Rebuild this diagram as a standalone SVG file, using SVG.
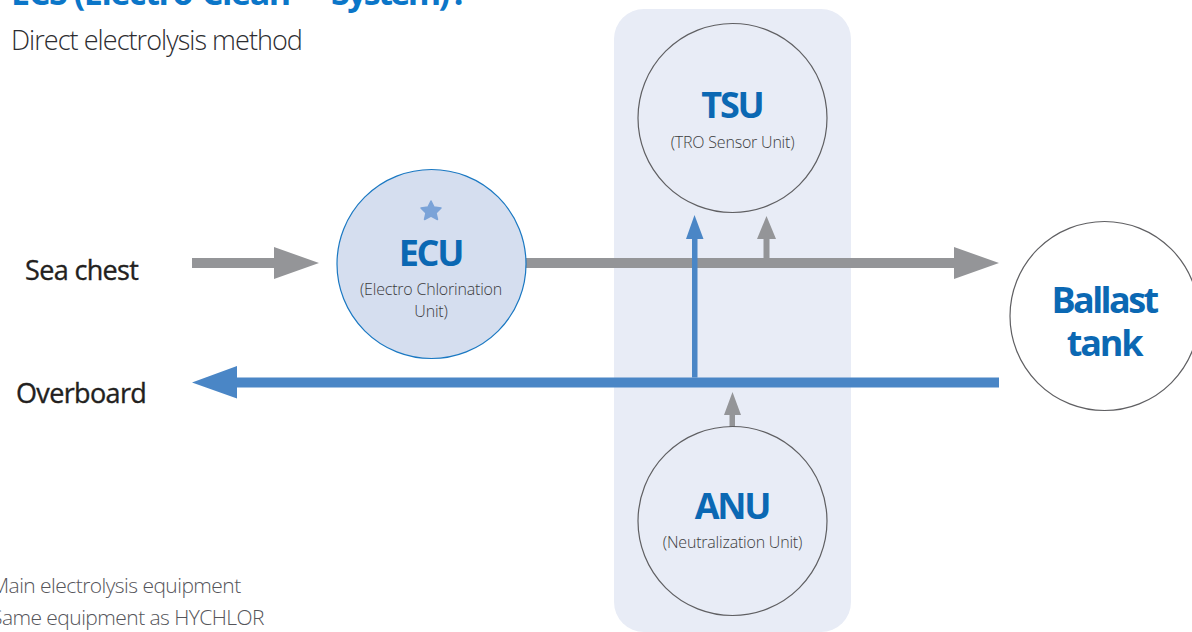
<svg xmlns="http://www.w3.org/2000/svg" width="1192" height="632" viewBox="0 0 1192 632">
<style>
text{font-family:"Open Sans","Noto Sans","Liberation Sans",sans-serif}
.c{text-anchor:middle}
.abbr{font-size:36px;font-weight:700;fill:#0b68b3;letter-spacing:-2.2px}
.sub{font-size:16px;font-weight:300;fill:#3c3c40;letter-spacing:-.2px}
.lbl{font-size:27px;font-weight:400;fill:#231f20;stroke:#231f20;stroke-width:.35px;letter-spacing:-.65px}
.note{font-size:21px;font-weight:300;fill:#55555a;letter-spacing:-.55px}
.n{fill:none;stroke:#5f5f62;stroke-width:1.2}
.g{fill:#949598}.b{fill:#4a86c6}
</style>
<rect x="614" y="9" width="237" height="623" rx="30" fill="#e8ecf6"/>
<g id="connectors">
<path class="g" d="M192 258H274V247L319 263 274 279V268H192Z"/>
<path class="g" d="M525 258H954V247L999 263 954 279V268H525Z"/>
<path class="g" d="M763.500 258V239H757L766.500 216 776 239H769.500V258Z"/>
<path class="b" d="M999 377.500H237V366L192 382.500 237 398.500V387.500H999Z"/>
<path class="b" d="M692 377.500V239H686L694.500 215 703.500 239H697.500V377.500Z"/>
<path class="g" d="M729.500 427V415H724L732.500 392 741 415H735V427Z"/>
</g>
<g id="title">
<text x="11" y="5" font-size="34" font-weight="700" fill="#0b76c8" letter-spacing="-1.4">ECS (Electro-Clean™ <tspan x="331" letter-spacing="-2.6">System) :</tspan></text>
<text x="11" y="50" font-size="27" font-weight="300" fill="#2c2c30" letter-spacing="-.95">Direct electrolysis method</text>
</g>
<g id="tsu">
<circle class="n" cx="732.500" cy="118" r="94.500"/>
<text class="c abbr" x="732" y="118">TSU</text>
<text class="c sub" x="732.500" y="148">(TRO Sensor Unit)</text>
</g>
<g id="ecu">
<circle cx="431.500" cy="264" r="94.500" fill="#d5deef" stroke="#1a78c2" stroke-width="1.2"/>
<path d="M431 201 434 207 441 208 436 213 437.500 219.500 431 216 424.500 219.500 426 213 421 208 428 207Z" fill="#7ba3d8" stroke="#7ba3d8" stroke-width="1.500" stroke-linejoin="round"/>
<text class="c abbr" x="430.500" y="266">ECU</text>
<text class="c sub" x="431" y="295">(Electro Chlorination</text>
<text class="c sub" x="431" y="317">Unit)</text>
</g>
<g id="anu">
<circle class="n" cx="732.500" cy="521" r="94.500"/>
<text class="c abbr" x="732" y="519">ANU</text>
<text class="c sub" x="732.500" y="548">(Neutralization Unit)</text>
</g>
<g id="ballast">
<circle class="n" cx="1104.500" cy="316" r="94.500"/>
<text class="c abbr" x="1104" y="313" style="letter-spacing:-2.6px">Ballast</text>
<text class="c abbr" x="1104" y="356">tank</text>
</g>
<g id="sea-chest"><text class="lbl" x="25" y="280">Sea chest</text></g>
<g id="overboard"><text class="lbl" x="16" y="403">Overboard</text></g>
<g id="notes">
<text class="note" x="-9" y="593">Main electrolysis equipment</text>
<text class="note" x="-9" y="625">Same equipment as HYCHLOR</text>
</g>
</svg>
